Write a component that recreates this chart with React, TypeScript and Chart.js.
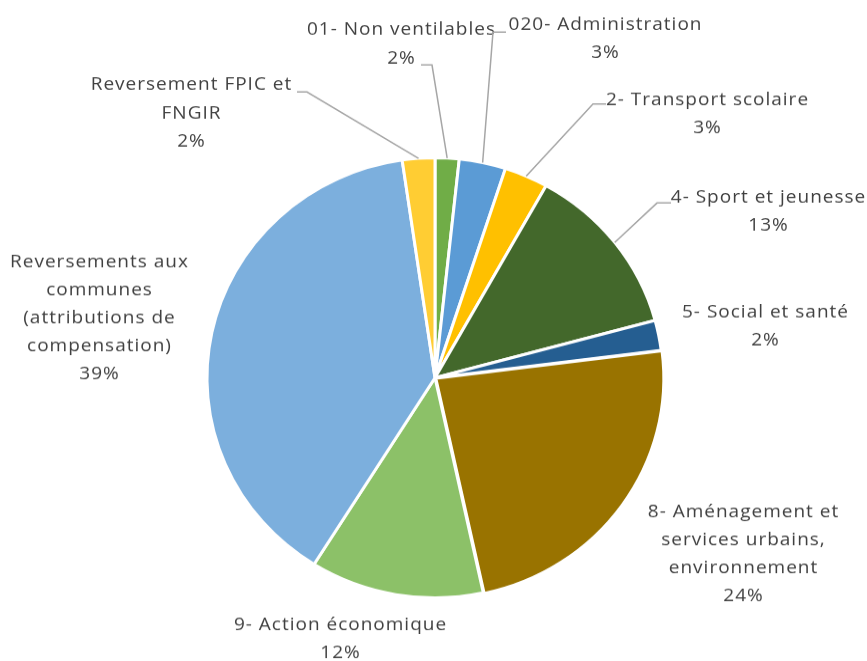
import React, { useEffect, useRef } from 'react';
import { Chart, registerables } from 'chart.js';

Chart.register(...registerables);

// ---- Data ----
const categories = [
  '01- Non ventilables',
  '020- Administration',
  '2- Transport scolaire',
  '4- Sport et jeunesse',
  '5- Social et santé',
  '8- Aménagement et services urbains, environnement',
  '9- Action économique',
  'Reversements aux communes (attributions de compensation)',
  'Reversement FPIC et FNGIR',
];
const shares = [1.7, 3.3, 3.1, 12.7, 2.2, 23.6, 12.3, 38.8, 2.3];
const labelLines = [
  ['01- Non ventilables'],
  ['020- Administration'],
  ['2- Transport scolaire'],
  ['4- Sport et jeunesse'],
  ['5- Social et santé'],
  ['8- Aménagement et', 'services urbains,', 'environnement'],
  ['9- Action économique'],
  ['Reversements aux', 'communes', '(attributions de', 'compensation)'],
  ['Reversement FPIC et', 'FNGIR'],
];
const colors = [
  '#70AD47',
  '#5B9BD5',
  '#FFC000',
  '#43682B',
  '#255E91',
  '#997300',
  '#8CC168',
  '#7CAFDD',
  '#FFCD33',
];
const offsets = [0, 0, 0, 0, 0, 4, 0, 0, 0];

// ---- Layout (display pixels) ----
const W = 867;
const H_DISPLAY = 661;
const H = 685; // intrinsic height; picture is slightly squashed vertically
const S = H_DISPLAY / H;
const LINE_H = 28;
// label block: centre x, middle y of first line, optional leader points (text side, elbow)
const labelLayout: { cx: number; y: number; leader?: number[][] }[] = [
  { cx: 401, y: 30, leader: [[421, 65], [432, 65]] },
  { cx: 605, y: 25, leader: [[506, 32], [493, 32]] },
  { cx: 707, y: 100, leader: [[606, 104], [593, 104]] },
  { cx: 768, y: 197, leader: [[671, 203], [657, 203]] },
  { cx: 765, y: 312 },
  { cx: 743, y: 512 },
  { cx: 340, y: 625 },
  { cx: 99, y: 262 },
  { cx: 191, y: 85, leader: [[297, 92], [307, 92]] },
];

const FONT = '19px "Open Sans", sans-serif';
const LETTER_SPACING = 1;
const TEXT_COLOR = '#404040';
const LEADER_COLOR = '#A6A6A6';

const labelPlugin = {
  id: 'excelLabels',
  afterDatasetsDraw(chart: any) {
    const ctx: CanvasRenderingContext2D = chart.ctx;
    const meta = chart.getDatasetMeta(0);
    const data: number[] = chart.data.datasets[0].data;
    const total = data.reduce((a, b) => a + b, 0);
    ctx.save();
    meta.data.forEach((arc: any, i: number) => {
      const p = arc.getProps(['x', 'y', 'startAngle', 'endAngle', 'outerRadius'], true);
      const mid = (p.startAngle + p.endAngle) / 2;
      const ax = p.x + Math.cos(mid) * p.outerRadius;
      const ay = p.y + Math.sin(mid) * p.outerRadius;
      const lay = labelLayout[i];
      if (lay.leader) {
        ctx.beginPath();
        ctx.strokeStyle = LEADER_COLOR;
        ctx.lineWidth = 1.5;
        ctx.moveTo(lay.leader[0][0], lay.leader[0][1] / S);
        for (let k = 1; k < lay.leader.length; k++) {
          ctx.lineTo(lay.leader[k][0], lay.leader[k][1] / S);
        }
        ctx.lineTo(ax, ay);
        ctx.stroke();
      }
      const lines = [...labelLines[i], Math.round((data[i] / total) * 100) + '%'];
      ctx.font = FONT;
      (ctx as any).letterSpacing = LETTER_SPACING + 'px';
      ctx.fillStyle = TEXT_COLOR;
      ctx.textAlign = 'center';
      ctx.textBaseline = 'middle';
      lines.forEach((t, k) => {
        ctx.fillText(t, lay.cx + LETTER_SPACING / 2, (lay.y + k * LINE_H) / S);
      });
    });
    ctx.restore();
  },
};

export default function App() {
  const ref = useRef<HTMLCanvasElement | null>(null);
  useEffect(() => {
    if (!ref.current) return;
    const chart = new Chart(ref.current, {
      type: 'pie',
      data: {
        labels: categories,
        datasets: [
          {
            data: shares,
            backgroundColor: colors,
            borderColor: '#FFFFFF',
            borderWidth: 3,
            offset: offsets,
          },
        ],
      },
      options: {
        responsive: false,
        animation: false,
        radius: 228,
        layout: { padding: { left: 3, right: 0, top: 98, bottom: 0 } },
        plugins: {
          legend: { display: false },
          tooltip: { enabled: false },
        },
      },
      plugins: [labelPlugin],
    });
    return () => chart.destroy();
  }, []);
  return (
    <div style={{ position: 'fixed', left: 0, top: 0, width: W, height: H_DISPLAY, background: '#fff' }}>
      <canvas ref={ref} width={W} height={H} style={{ width: W + 'px', height: H_DISPLAY + 'px', display: 'block' }} />
    </div>
  );
}
